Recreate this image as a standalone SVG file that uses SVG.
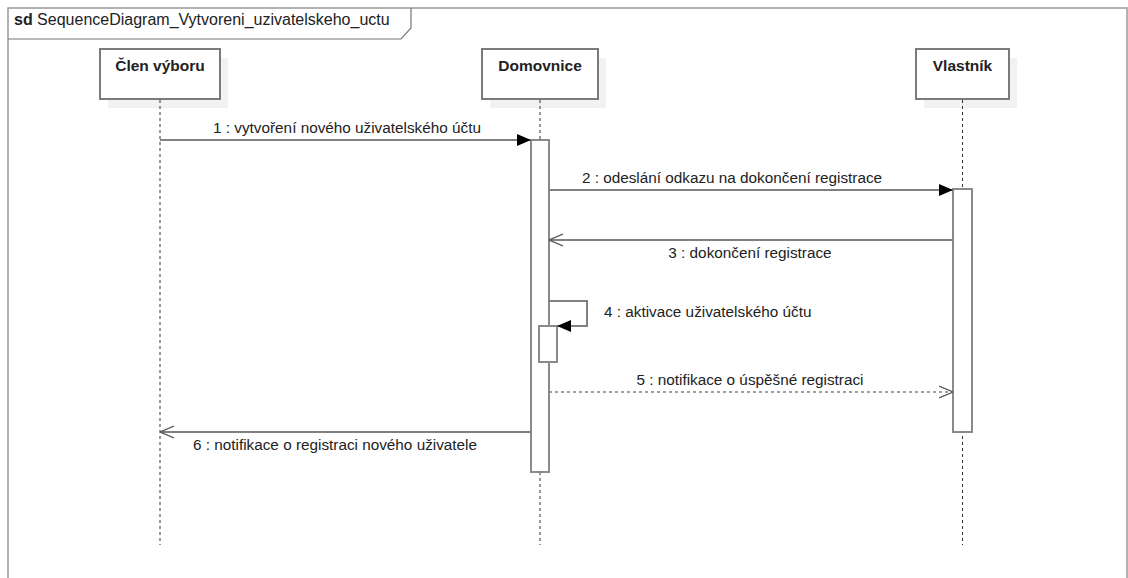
<svg xmlns="http://www.w3.org/2000/svg" width="1128" height="578" viewBox="0 0 1128 578">
  <style>
    text { font-family: "Liberation Sans", Arial, sans-serif; font-size: 15.3px; fill: #222; }
    .head { font-size: 16px; }
    .title { font-weight: bold; font-size: 15.5px; text-anchor: middle; }
    .box { fill: #fff; stroke: #7a7a7a; stroke-width: 2; }
    .shadow { fill: #f2f2f2; }
    .life { stroke: #333; stroke-width: 1; stroke-dasharray: 3 3; fill: none; }
    .act { fill: #fff; stroke: #8a8a8a; stroke-width: 2; }
    .msg { stroke: #808080; stroke-width: 2; fill: none; }
    .ret { stroke: #808080; stroke-width: 1.5; fill: none; stroke-dasharray: 3 3; }
    .lbl { text-anchor: middle; }
  </style>
  <defs>
    <marker id="filled" markerWidth="14" markerHeight="12" refX="14" refY="6" orient="auto" markerUnits="userSpaceOnUse">
      <path d="M0,0 L14,6 L0,12 Z" fill="#000"/>
    </marker>
    <marker id="open" markerWidth="14" markerHeight="14" refX="14" refY="7" orient="auto" markerUnits="userSpaceOnUse">
      <path d="M0,1 L14,7 L0,13" fill="none" stroke="#555" stroke-width="1.2"/>
    </marker>
  </defs>

  <rect width="1128" height="578" fill="#fff"/>

  <!-- frame -->
  <g id="frame">
    <path d="M8,590 V8 H1127 V590" fill="none" stroke="#999" stroke-width="1.5"/>
    <path d="M8,39 H401 L411,28 V8" fill="none" stroke="#777" stroke-width="1.2"/>
    <text class="head" x="14" y="25"><tspan font-weight="bold">sd</tspan> SequenceDiagram_Vytvoreni_uzivatelskeho_uctu</text>
  </g>

  <!-- lifelines -->
  <g id="clen">
    <rect class="shadow" x="108" y="58" width="120" height="50"/>
    <rect class="box" x="100" y="49" width="120" height="50"/>
    <text class="title" x="160" y="71">Člen výboru</text>
    <line class="life" x1="160" y1="100" x2="160" y2="545"/>
  </g>
  <g id="domovnice">
    <rect class="shadow" x="490" y="58" width="116" height="50"/>
    <rect class="box" x="482" y="49" width="116" height="50"/>
    <text class="title" x="540" y="71">Domovnice</text>
    <line class="life" x1="540" y1="100" x2="540" y2="545"/>
    <rect class="act" x="531" y="140" width="18" height="332"/>
    <rect class="act" x="539" y="326" width="18" height="36"/>
  </g>
  <g id="vlastnik">
    <rect class="shadow" x="924" y="58" width="93" height="50"/>
    <rect class="box" x="916" y="49" width="93" height="50"/>
    <text class="title" x="962.5" y="71">Vlastník</text>
    <line class="life" x1="962.5" y1="100" x2="962.5" y2="545"/>
    <rect class="act" x="953" y="189" width="19" height="243"/>
  </g>

  <!-- messages -->
  <g id="connectors">
    <line class="msg" x1="160" y1="140" x2="531" y2="140" marker-end="url(#filled)"/>
    <text class="lbl" x="347" y="133">1 : vytvoření nového uživatelského účtu</text>

    <line class="msg" x1="549" y1="190" x2="953" y2="190" marker-end="url(#filled)"/>
    <text class="lbl" x="732" y="183">2 : odeslání odkazu na dokončení registrace</text>

    <line class="msg" x1="953" y1="240" x2="549" y2="240" marker-end="url(#open)"/>
    <text class="lbl" x="750" y="258">3 : dokončení registrace</text>

    <polyline class="msg" points="549,301 587,301 587,326 557,326" marker-end="url(#filled)"/>
    <text x="604" y="317">4 : aktivace uživatelského účtu</text>

    <line class="ret" x1="549" y1="392" x2="953" y2="392" marker-end="url(#open)"/>
    <text class="lbl" x="750" y="385">5 : notifikace o úspěšné registraci</text>

    <line class="msg" x1="531" y1="432" x2="160" y2="432" marker-end="url(#open)"/>
    <text x="193" y="450">6 : notifikace o registraci nového uživatele</text>
  </g>
</svg>
